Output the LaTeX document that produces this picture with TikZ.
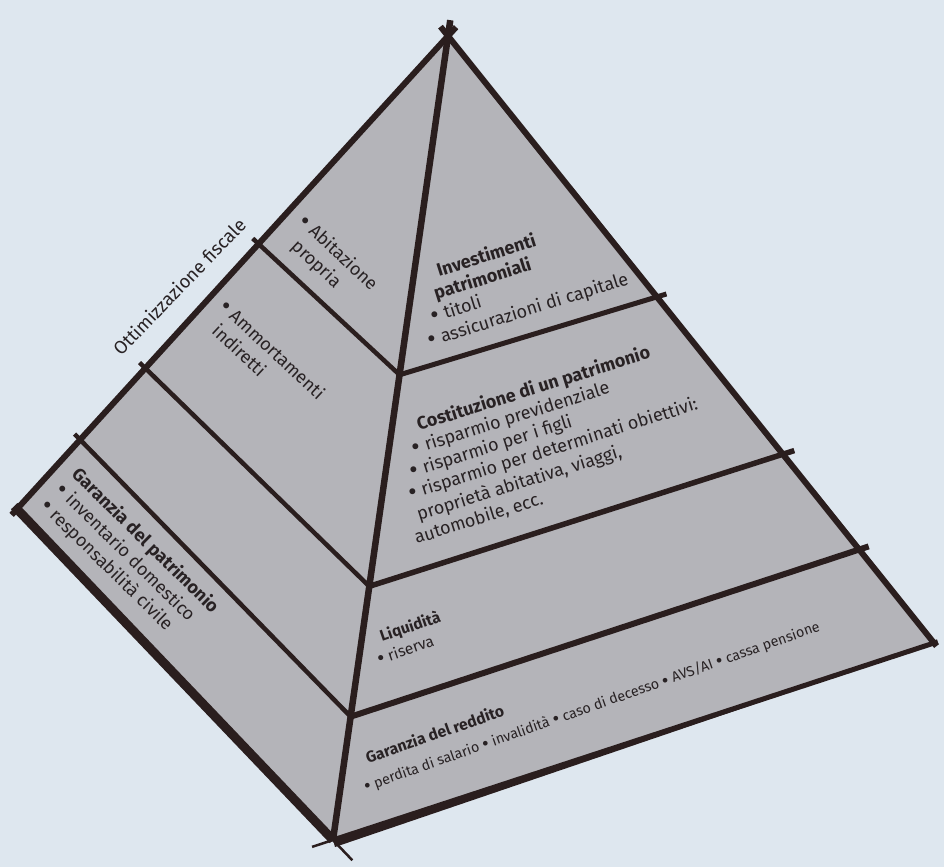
\documentclass[tikz,border=0pt]{standalone}
\usepackage{fontspec}
\setmainfont{Fira Sans}
\usetikzlibrary{calc}
\definecolor{bgc}{RGB}{222,231,239}
\definecolor{facec}{RGB}{180,180,185}
\definecolor{edgec}{RGB}{42,30,30}
\definecolor{txtc}{RGB}{40,34,36}
\newcommand{\bul}{\raisebox{-2pt}{\scalebox{1.45}{•}}}
\tikzset{
  edge/.style={draw=edgec, line width=6pt, line cap=butt},
  band/.style={draw=edgec, line width=4.5pt, line cap=butt},
  tick/.style={draw=edgec, line width=2.5pt, line cap=butt},
  lbl/.style={inner sep=0pt, anchor=base west, text=txtc, font=\fontsize{18}{20}\selectfont},
  lblsmall/.style={lbl, font=\fontsize{15.5}{18}\selectfont},
  lbltiny/.style={lbl, font=\fontsize{14.3}{17}\selectfont},
}
\begin{document}
\begin{tikzpicture}[x=1pt,y=-1pt]
\useasboundingbox (0,0) rectangle (944,867);
\fill[bgc] (0,0) rectangle (944,867);
\coordinate (A) at (448,36);
\coordinate (L) at (17,509);
\coordinate (B) at (333,840);
\coordinate (R) at (934,643);
\fill[facec] (A) -- (L) -- (B) -- (R) -- cycle;
% division points
\coordinate (P1) at ($(A)!0.4395!(L)$);
\coordinate (P2) at ($(A)!0.7023!(L)$);
\coordinate (P3) at ($(A)!0.8535!(L)$);
\coordinate (Q1) at ($(A)!0.4214!(B)$);
\coordinate (Q2) at ($(A)!0.6845!(B)$);
\coordinate (Q3) at ($(A)!0.8466!(B)$);
\coordinate (S1) at ($(A)!0.4298!(R)$);
\coordinate (S2) at ($(A)!0.689!(R)$);
\coordinate (S3) at ($(A)!0.846!(R)$);
% left face bands
\draw[band, shorten >=-8pt] (Q1) -- (P1);
\draw[band, shorten >=-8pt] (Q2) -- (P2);
\draw[band, shorten >=-8pt] (Q3) -- (P3);
% right face bands
\draw[band, line width=5pt, shorten >=-10pt] (Q1) -- (S1);
\draw[band, line width=5.5pt, shorten >=-12pt] (Q2) -- (S2);
\draw[band, line width=6pt, shorten >=-10pt] (Q3) -- (S3);
% outer edges
\draw[edge, shorten <=-12pt, shorten >=-8pt] (A) -- (L);
\draw[edge, shorten <=-12pt, shorten >=-4pt] (A) -- (R);
\draw[edge, line width=6.5pt, shorten <=-16pt] (A) -- (B);
\draw[edgec, line width=9pt, shorten <=-4pt] (L) -- (B);
\draw[edgec, line width=5pt, shorten >=-4pt] (B) -- (R);
\fill[edgec] (B) -- (R) -- ($(B)+(2,7)$) -- cycle;
\coordinate (Bt1) at ($(B)!-28pt!(L)$);
\coordinate (Bt2) at ($(B)!-22pt!(R)$);
\draw[tick] (B) -- (Bt1);
\draw[tick] (B) -- (Bt2);
% left face texts
\node[lbl, rotate=46, font=\fontsize{18.5}{20}\selectfont] (ott) at (121,357) {Ottimizzazione fiscale};
\node[lbl, rotate=-43] (abit1) at (298,223.3) {\bul{} Abitazione};
\node[lbl, rotate=-43] (abit2) at (290.3,247.6) {propria};
\node[lbl, rotate=-43] (amm1) at (218.4,308.3) {\bul{} Ammortamenti};
\node[lbl, rotate=-43] (amm2) at (210.7,332.6) {indiretti};
\node[lbl, rotate=-44.5] (gp1) at (70.7,475.5) {\bfseries Garanzia del patrimonio};
\node[lbl, rotate=-44.5] (gp2) at (55,491.4) {\bul{} inventario domestico};
\node[lbl, rotate=-44.5] (gp3) at (39.3,507.3) {\bul{} responsabilità civile};
% right face texts
\node[lbl, rotate=17.5] (inv1) at (439,277) {\bfseries Investimenti};
\node[lbl, rotate=17.5] (inv2) at (436,300) {\bfseries patrimoniali};
\node[lbl, rotate=17.5] (inv3) at (433,323) {\bul{} titoli};
\node[lbl, rotate=17.5] (inv4) at (430,347) {\bul{} assicurazioni di capitale};
\node[lbl, rotate=17.5] (cos1) at (419,431) {\bfseries Costituzione di un patrimonio};
\node[lbl, rotate=17.5] (cos2) at (414,455) {\bul{} risparmio previdenziale};
\node[lbl, rotate=17.5] (cos3) at (412,477.5) {\bul{} risparmio per i figli};
\node[lbl, rotate=17.5] (cos4) at (410.5,500) {\bul{} risparmio per determinati obiettivi:};
\node[lbl, rotate=17.5] (cos5) at (419,521) {proprietà abitativa, viaggi,};
\node[lbl, rotate=17.5] (cos6) at (416.5,544) {automobile, ecc.};
\node[lblsmall, rotate=19] (liq1) at (382,642) {\bfseries Liquidità};
\node[lblsmall, rotate=19] (liq2) at (379,665) {\bul{} riserva};
\node[lbltiny, rotate=19.5, font=\fontsize{15.7}{17}\selectfont] (gr1) at (368,764) {\bfseries Garanzia del reddito};
\node[lbltiny, rotate=19.5] (gr2) at (365.7,791.7) {\bul{} perdita di salario \bul{} invalidità \bul{} caso di decesso \bul{} AVS/AI \bul{} cassa pensione};
\end{tikzpicture}
\end{document}
